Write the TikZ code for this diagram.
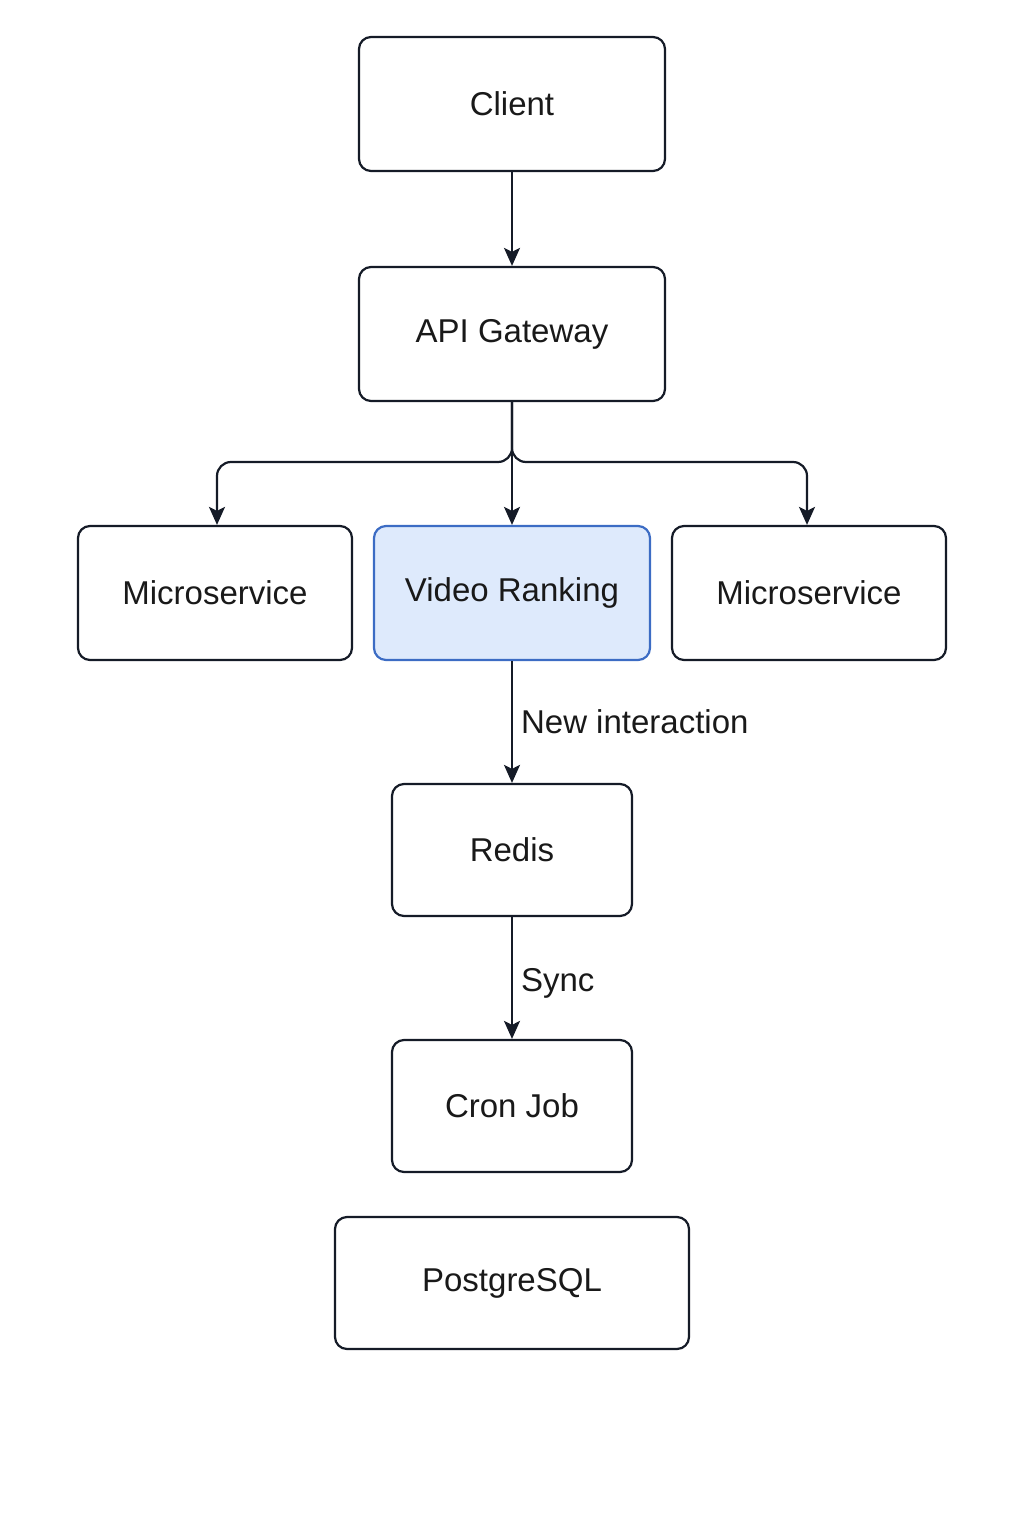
\documentclass[tikz,border=0pt]{standalone}
\usepackage{fontspec}
\setmainfont{Liberation Sans}
\usetikzlibrary{arrows.meta}
\definecolor{ink}{HTML}{151B27}
\definecolor{rankfill}{HTML}{DEEAFC}
\definecolor{rankline}{HTML}{3C6CC4}
\tikzset{
  box/.style={draw=ink, line width=2.2pt, rounded corners=12pt, fill=white,
    minimum height=134pt, text=black!90, font=\fontsize{33}{40}\selectfont},
  arr/.style={-{Stealth[length=18pt,width=16pt,inset=4pt]}, draw=ink, line width=2.2pt},
  lbl/.style={right, text=black!90, inner sep=8pt, font=\fontsize{33}{40}\selectfont}
}
\begin{document}
\begin{tikzpicture}[x=1pt, y=-1pt]
    \useasboundingbox (0,0) rectangle (1024,1536);
    \node[box, minimum width=306pt] (client) at (512,104) {Client};
    \node[box, minimum width=306pt] (gateway) at (512,334) {API Gateway};
    \node[box, minimum width=274pt] (msleft) at (215,593) {Microservice};
    \node[box, minimum width=276pt, fill=rankfill, draw=rankline] (ranking) at (512,593) {Video Ranking};
    \node[box, minimum width=274pt] (msright) at (809,593) {Microservice};
    \node[box, minimum width=240pt, minimum height=132pt] (redis) at (512,850) {Redis};
    \node[box, minimum width=240pt, minimum height=132pt] (cron) at (512,1106) {Cron Job};
    \node[box, minimum width=354pt, minimum height=132pt] (postgres) at (512,1283) {PostgreSQL};
    \coordinate (split) at (512,462);
  \draw[arr] (client) -- (gateway);
	\draw[arr, rounded corners=14pt] (gateway.south) -- (split) -| ([xshift=2pt]msleft.north);
	\draw[arr, rounded corners=14pt] (gateway.south) -- (split) -| ([xshift=-2pt]msright.north);
	\draw[arr] (gateway) -- (ranking);
  \draw[arr] (ranking) -- (redis) node[lbl, midway] {New interaction};
  \draw[arr] (redis) -- (cron) node[lbl, midway, yshift=-5pt] {Sync};
\end{tikzpicture}
\end{document}
